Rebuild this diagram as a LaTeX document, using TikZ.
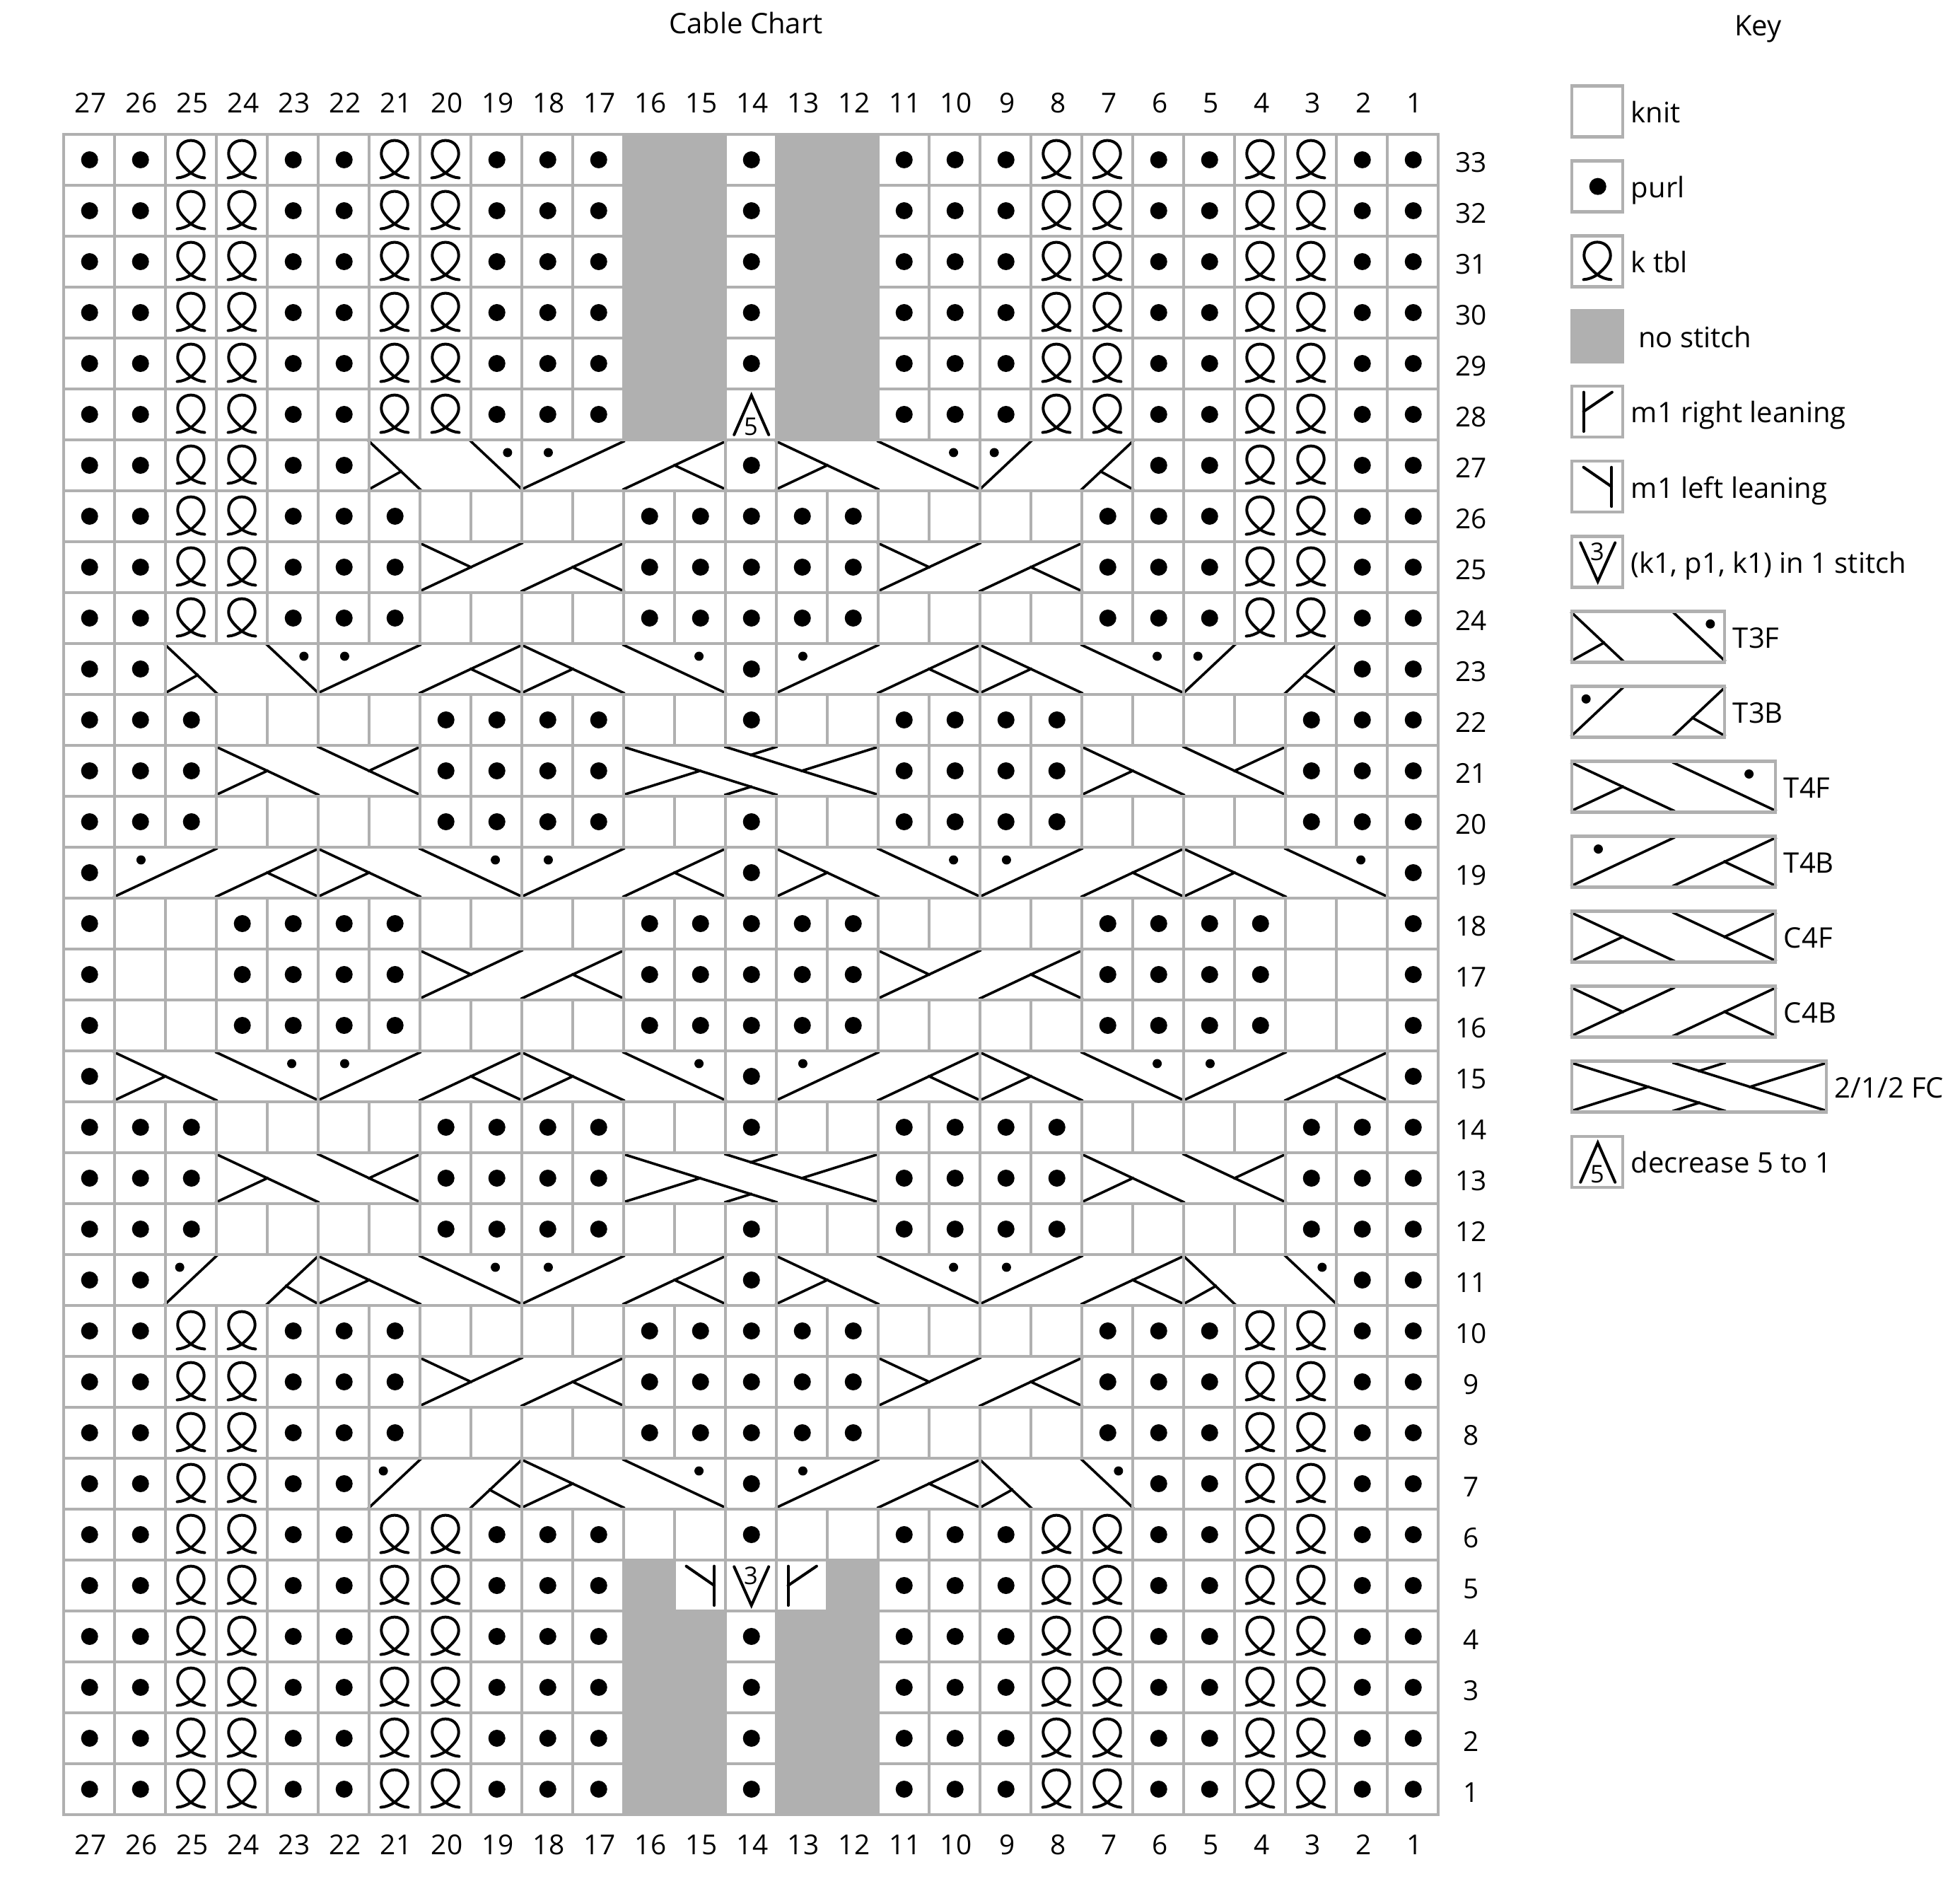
\documentclass[tikz,border=0pt]{standalone}
\usepackage{fontspec}
\setmainfont{Open Sans}
\definecolor{gridgray}{HTML}{B0B0B0}

% one chart cell is 72 px of the sheet, 18pt here
\tikzset{
	gridline/.style={draw=gridgray,line width=1.2pt},
	cableline/.style={line width=.9pt,line cap=rect},
	stitchline/.style={line width=1pt,line cap=round},
	every node/.style={inner sep=0pt,font=\fontsize{10}{12}\selectfont},
	numberlabel/.style={anchor=base,font=\fontsize{9.7}{12}\selectfont},
	smalldigit/.style={font=\fontsize{8.6}{10}\selectfont},
	pics/k/.style={code={\draw[gridline] (0,0) rectangle (1,1);}},
	pics/x/.style={code={}},
	pics/n/.style={code={\filldraw[gridline,fill=gridgray] (0,0) rectangle (1,1);}},
	pics/p/.style={code={
		\draw[gridline] (0,0) rectangle (1,1);
		\fill (.51,.5) circle (.167);
	}},
	pics/q/.style={code={
		\draw[gridline] (0,0) rectangle (1,1);
		\draw[stitchline] (.23,.145) .. controls (.33,.15) and (.42,.19) .. (.5,.24)
			.. controls (.64,.36) and (.76,.48) .. (.76,.62)
			.. controls (.76,.78) and (.64,.88) .. (.5,.88)
			.. controls (.36,.88) and (.24,.78) .. (.24,.62)
			.. controls (.24,.48) and (.36,.36) .. (.5,.24)
			.. controls (.58,.19) and (.67,.15) .. (.77,.145);
	}},
	pics/r/.style={code={
		\draw[gridline] (0,0) rectangle (1,1);
		\draw[stitchline] (.23,.11) -- (.23,.88);
		\draw[stitchline] (.23,.5) -- (.79,.88);
	}},
	pics/l/.style={code={
		\draw[gridline] (0,0) rectangle (1,1);
		\draw[stitchline] (.78,.11) -- (.78,.88);
		\draw[stitchline] (.78,.5) -- (.23,.88);
	}},
	pics/v/.style={code={
		\draw[gridline] (0,0) rectangle (1,1);
		\draw[stitchline] (.17,.87) -- (.51,.11) -- (.85,.87);
		\node[smalldigit] (three) at (.5,.69) {3};
	}},
	pics/d/.style={code={
		\draw[gridline] (0,0) rectangle (1,1);
		\draw[stitchline] (.17,.1) -- (.51,.875) -- (.85,.1);
		\node[smalldigit] (five) at (.5,.255) {5};
	}},
	pics/T3F/.style={code={
		\draw[cableline] (0,.97) -- (1,.03);
		\draw[cableline] (0,.03) -- (.63,.38);
		\draw[cableline] (2,.97) -- (3,.03);
		\fill (2.72,.75) circle (.09);
		\draw[gridline] (0,0) rectangle (3,1);
	}},
	pics/T3B/.style={code={
		\draw[cableline] (0,.03) -- (1,.97);
		\draw[cableline] (2,.03) -- (3,.97);
		\draw[cableline] (2.37,.38) -- (3,.03);
		\fill (.28,.75) circle (.09);
		\draw[gridline] (0,0) rectangle (3,1);
	}},
	pics/T4F/.style={code={
		\draw[cableline] (0,.97) -- (2,.03);
		\draw[cableline] (0,.03) -- (1,.5);
		\draw[cableline] (2,.97) -- (4,.03);
		\fill (3.48,.75) circle (.09);
		\draw[gridline] (0,0) rectangle (4,1);
	}},
	pics/T4B/.style={code={
		\draw[cableline] (0,.03) -- (2,.97);
		\draw[cableline] (2,.03) -- (4,.97);
		\draw[cableline] (3,.5) -- (4,.03);
		\fill (.52,.75) circle (.09);
		\draw[gridline] (0,0) rectangle (4,1);
	}},
	pics/C4F/.style={code={
		\draw[cableline] (0,.97) -- (2,.03);
		\draw[cableline] (0,.03) -- (1,.5);
		\draw[cableline] (2,.97) -- (4,.03);
		\draw[cableline] (3,.5) -- (4,.97);
		\draw[gridline] (0,0) rectangle (4,1);
	}},
	pics/C4B/.style={code={
		\draw[cableline] (0,.03) -- (2,.97);
		\draw[cableline] (0,.97) -- (1,.5);
		\draw[cableline] (2,.03) -- (4,.97);
		\draw[cableline] (3,.5) -- (4,.03);
		\draw[gridline] (0,0) rectangle (4,1);
	}},
	pics/FC/.style={code={
		\draw[cableline] (0,.97) -- (3,.03);
		\draw[cableline] (2,.97) -- (5,.03);
		\draw[cableline] (0,.03) -- (1.5,.5);
		\draw[cableline] (2,.03) -- (2.5,.187);
		\draw[cableline] (2.5,.813) -- (3,.97);
		\draw[cableline] (3.5,.5) -- (5,.97);
		\draw[gridline] (0,0) rectangle (5,1);
	}},
}

% the rows, left to right: p purl, q k tbl, k knit, n no stitch, x under a cable
\def\plainrow{p,p,q,q,p,p,q,q,p,p,p,n,n,p,n,n,p,p,p,q,q,p,p,q,q,p,p}
\def\topshaping{p,p,q,q,p,p,q,q,p,p,p,n,n,d,n,n,p,p,p,q,q,p,p,q,q,p,p}
\def\lowshaping{p,p,q,q,p,p,q,q,p,p,p,n,l,v,r,n,p,p,p,q,q,p,p,q,q,p,p}
\def\openrow{p,p,q,q,p,p,q,q,p,p,p,k,k,p,k,k,p,p,p,q,q,p,p,q,q,p,p}
\def\sidecable{p,p,q,q,p,p,x,x,x,x,x,x,x,p,x,x,x,x,x,x,x,p,p,q,q,p,p}
\def\tblknit{p,p,q,q,p,p,p,k,k,k,k,p,p,p,p,p,k,k,k,k,p,p,p,q,q,p,p}
\def\tblcable{p,p,q,q,p,p,p,x,x,x,x,p,p,p,p,p,x,x,x,x,p,p,p,q,q,p,p}
\def\wideknit{p,p,p,k,k,k,k,p,p,p,p,k,k,p,k,k,p,p,p,p,k,k,k,k,p,p,p}
\def\widecable{p,p,p,x,x,x,x,p,p,p,p,x,x,x,x,x,p,p,p,p,x,x,x,x,p,p,p}
\def\outerknit{p,k,k,p,p,p,p,k,k,k,k,p,p,p,p,p,k,k,k,k,p,p,p,p,k,k,p}
\def\outercable{p,k,k,p,p,p,p,x,x,x,x,p,p,p,p,p,x,x,x,x,p,p,p,p,k,k,p}
\def\twopurl{p,p,x,x,x,x,x,x,x,x,x,x,x,p,x,x,x,x,x,x,x,x,x,x,x,p,p}
\def\onepurl{p,x,x,x,x,x,x,x,x,x,x,x,x,p,x,x,x,x,x,x,x,x,x,x,x,x,p}

\newcommand{\chartrow}[2]{
	\foreach \c [count=\i from 0] in #2
		\pic at (\i,#1) {\c};
}

\begin{document}
\begin{tikzpicture}[x=18pt,y=18pt]
\useasboundingbox (-1.25,-1.25) rectangle (37.25,35.639);

\node[anchor=base] (title) at (13.4,34.98) {Cable Chart};
\node[anchor=base] (keytitle) at (33.28,34.94) {Key};

% column numbers above and below
\foreach \n in {1,...,27} {
	\node[numberlabel] (top\n) at (27.53-\n,33.43) {\n};
	\node[numberlabel] (bottom\n) at (27.53-\n,-.79) {\n};
}
% row numbers
\foreach \r in {1,...,33}
	\node[numberlabel] (row\r) at (27.65,\r-.75) {\r};

% stitches
\foreach \r in {32,31,30,29,28,3,2,1,0} {
	\chartrow{\r}{\plainrow}
}
\chartrow{27}{\topshaping}
\chartrow{5}{\openrow}
\chartrow{4}{\lowshaping}
\foreach \r in {26,6} {
	\chartrow{\r}{\sidecable}
}
\foreach \r in {25,23,9,7} {
	\chartrow{\r}{\tblknit}
}
\foreach \r in {24,8} {
	\chartrow{\r}{\tblcable}
}
\foreach \r in {21,19,13,11} {
	\chartrow{\r}{\wideknit}
}
\foreach \r in {20,12} {
	\chartrow{\r}{\widecable}
}
\foreach \r in {17,15} {
	\chartrow{\r}{\outerknit}
}
\chartrow{16}{\outercable}
\foreach \r in {22,10} {
	\chartrow{\r}{\twopurl}
}
\foreach \r in {18,14} {
	\chartrow{\r}{\onepurl}
}

% cables
\foreach \i/\r/\k in {
	6/26/T3F,9/26/T4B,14/26/T4F,18/26/T3B,
	7/24/C4B,16/24/C4B,
	2/22/T3F,5/22/T4B,9/22/T4F,14/22/T4B,18/22/T4F,22/22/T3B,
	3/20/C4F,11/20/FC,20/20/C4F,
	1/18/T4B,5/18/T4F,9/18/T4B,14/18/T4F,18/18/T4B,22/18/T4F,
	7/16/C4B,16/16/C4B,
	1/14/T4F,5/14/T4B,9/14/T4F,14/14/T4B,18/14/T4F,22/14/T4B,
	3/12/C4F,11/12/FC,20/12/C4F,
	2/10/T3B,5/10/T4F,9/10/T4B,14/10/T4F,18/10/T4B,22/10/T3F,
	7/8/C4B,16/8/C4B,
	6/6/T3B,9/6/T4F,14/6/T4B,18/6/T3F}
	\pic at (\i,\r) {\k};

% key
\foreach \n/\w/\k/\t in {
	0/1/k/knit,
	1/1/p/purl,
	2/1/q/k tbl,
	3/1/n/{\ no stitch},
	4/1/r/m1 right leaning,
	5/1/l/m1 left leaning,
	6/1/v/{(k1, p1, k1) in 1 stitch},
	7/3/T3F/T3F,
	8/3/T3B/T3B,
	9/4/T4F/T4F,
	10/4/T4B/T4B,
	11/4/C4F/C4F,
	12/4/C4B/C4B,
	13/5/FC/{2/1/2 FC},
	14/1/d/decrease 5 to 1} {
	\pgfmathsetmacro{\y}{32.95-1.4736*\n}
	\pic at (29.625,\y) {\k};
	\node[anchor=base west] (key\n) at (29.625+\w+.155,\y+.278) {\t};
}
\end{tikzpicture}
\end{document}
